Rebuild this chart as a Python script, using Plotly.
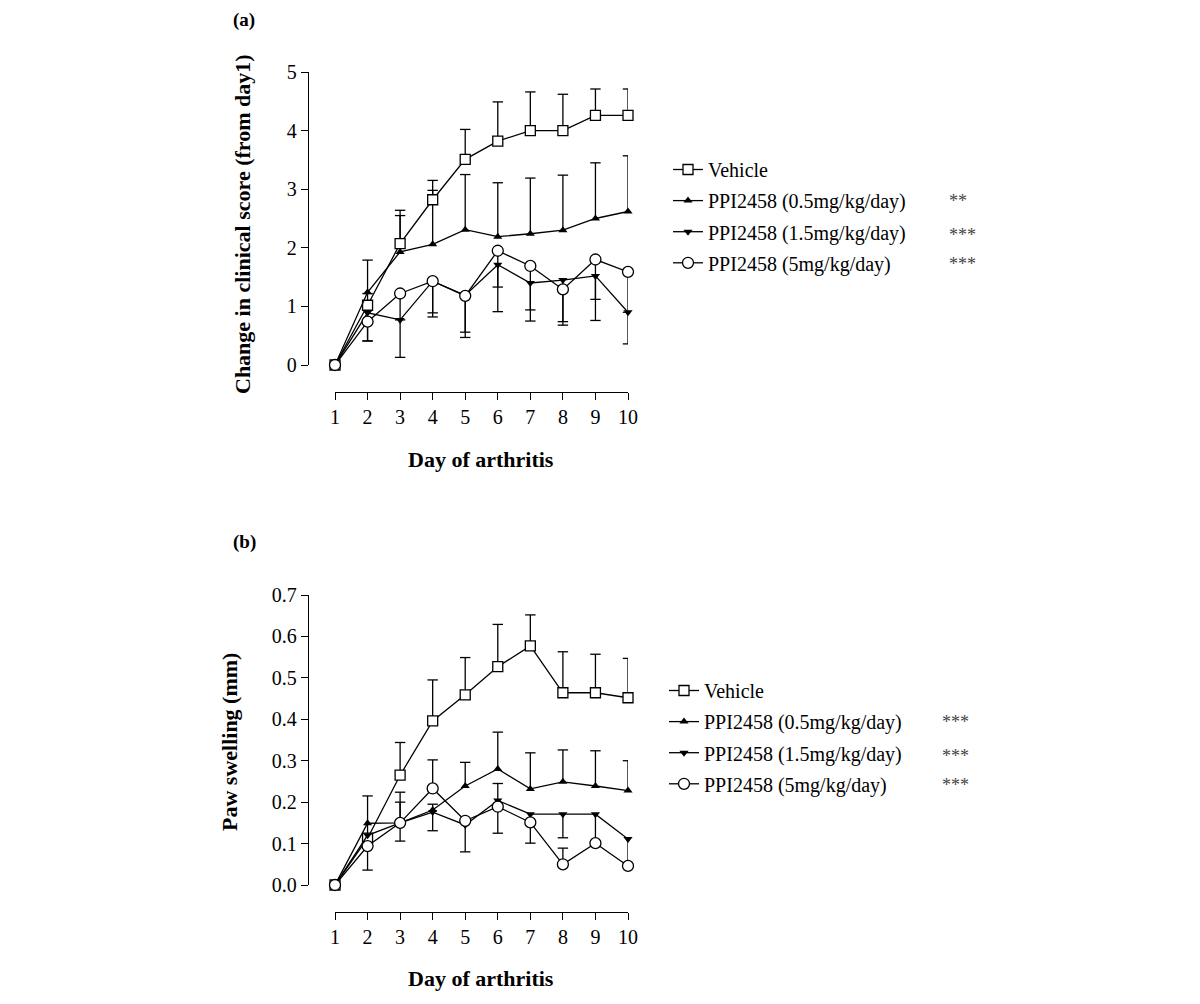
import plotly.graph_objects as go

days = [1, 2, 3, 4, 5, 6, 7, 8, 9, 10]
series_names = ["Vehicle", "PPI2458 (0.5mg/kg/day)", "PPI2458 (1.5mg/kg/day)", "PPI2458 (5mg/kg/day)"]

# Panel (a): change in clinical score
a_vehicle = [0, 1.02, 2.07, 2.82, 3.51, 3.82, 4.00, 4.00, 4.26, 4.26]
a_vehicle_up = [0, 0.20, 0.57, 0.33, 0.51, 0.67, 0.66, 0.62, 0.45, 0.45]
a_low = [0, 1.24, 1.93, 2.06, 2.31, 2.19, 2.24, 2.30, 2.50, 2.62]
a_low_up = [0, 0.55, 0.62, 0.92, 0.94, 0.92, 0.95, 0.94, 0.95, 0.95]
a_mid = [0, 0.89, 0.77, 1.43, 1.19, 1.71, 1.40, 1.45, 1.52, 0.90]
a_mid_down = [0, 0.48, 0.64, 0.54, 0.72, 0.80, 0.65, 0.71, 0.76, 0.54]
a_high = [0, 0.74, 1.22, 1.43, 1.18, 1.95, 1.69, 1.29, 1.80, 1.59]
a_high_down = [0, 0.33, 0.45, 0.61, 0.62, 0.62, 0.75, 0.61, 0.68, 0.69]
a_stars = ["", "**", "***", "***"]

# Panel (b): paw swelling (mm)
b_vehicle = [0, 0.113, 0.265, 0.396, 0.459, 0.527, 0.577, 0.464, 0.464, 0.452]
b_vehicle_up = [0, 0.102, 0.079, 0.099, 0.090, 0.102, 0.075, 0.099, 0.093, 0.095]
b_low = [0, 0.149, 0.150, 0.181, 0.239, 0.280, 0.232, 0.249, 0.239, 0.228]
b_low_up = [0, 0, 0.074, 0.014, 0.057, 0.089, 0.087, 0.077, 0.085, 0.072]
b_mid = [0, 0.120, 0.150, 0.176, 0.145, 0.204, 0.171, 0.171, 0.171, 0.111]
b_mid_down = [0, 0.030, 0.044, 0.045, 0.065, 0.079, 0.070, 0.057, 0.070, 0.065]
b_high = [0, 0.094, 0.150, 0.233, 0.155, 0.189, 0.151, 0.050, 0.101, 0.046]
b_high_up = [0, 0, 0.050, 0.069, 0, 0.056, 0, 0.039, 0, 0]
b_high_down = [0, 0.058, 0, 0, 0, 0, 0, 0, 0, 0]
b_stars = ["", "***", "***", "***"]

FONT = "Liberation Serif"
LW = 1.3
CAP = 0.16  # half cap width in days

markers = [
    dict(symbol="square", size=10, color="white", line=dict(color="black", width=LW)),
    dict(symbol="triangle-up", size=8, color="black", line=dict(color="black", width=0)),
    dict(symbol="triangle-down", size=8, color="black", line=dict(color="black", width=0)),
    dict(symbol="circle", size=11, color="white", line=dict(color="black", width=LW)),
]


def err_segments(xs, ys, up=None, down=None):
    px, py = [], []
    n = len(xs)
    up = up or [0] * n
    down = down or [0] * n
    for x, y, u, d in zip(xs, ys, up, down):
        for e in (u, -d):
            if e != 0:
                px += [x, x, None, x - CAP, x + CAP, None]
                py += [y, y + e, None, y + e, y + e, None]
    return px, py


fig = go.Figure()

panels = [
    dict(x="x", y="y", legend="legend",
         vals=[a_vehicle, a_low, a_mid, a_high],
         errs=[(a_vehicle_up, None), (a_low_up, None), (None, a_mid_down), (None, a_high_down)]),
    dict(x="x2", y="y2", legend="legend2",
         vals=[b_vehicle, b_low, b_mid, b_high],
         errs=[(b_vehicle_up, None), (b_low_up, None), (None, b_mid_down), (b_high_up, b_high_down)]),
]

for p in panels:
    for v, (u, d) in zip(p["vals"], p["errs"]):
        ex, ey = err_segments(days, v, u, d)
        fig.add_trace(go.Scatter(x=ex, y=ey, mode="lines", xaxis=p["x"], yaxis=p["y"],
                                 line=dict(color="black", width=LW), showlegend=False,
                                 hoverinfo="skip", cliponaxis=False))
    for i, (name, v) in enumerate(zip(series_names, p["vals"])):
        fig.add_trace(go.Scatter(x=days, y=v, name=name, mode="lines+markers",
                                 xaxis=p["x"], yaxis=p["y"], legend=p["legend"],
                                 legendgroup=p["legend"] + str(i),
                                 line=dict(color="black", width=LW), marker=markers[i],
                                 cliponaxis=False))

W, H = 1200, 1004
OFF = 8  # page body margin


def fx(px):
    return (px - OFF) / W


def fy(py):
    return 1 - (py - OFF) / H


tickfont = dict(family=FONT, size=20, color="black")
common_x = dict(range=[1, 10], tickvals=days, ticks="outside", ticklen=7, tickwidth=LW,
                tickcolor="black", showline=True, linecolor="black", linewidth=LW,
                showgrid=False, zeroline=False, tickfont=tickfont, anchor="free",
                automargin=False)
common_y = dict(ticks="outside", ticklen=7, tickwidth=LW, tickcolor="black", showline=True,
                linecolor="black", linewidth=LW, showgrid=False, zeroline=False,
                tickfont=tickfont, anchor="free", position=fx(308), automargin=False)

legend_common = dict(font=dict(family=FONT, size=20, color="black"), bgcolor="rgba(0,0,0,0)",
                     xanchor="left", yanchor="top", traceorder="grouped", tracegroupgap=2.1,
                     itemclick=False)

fig.update_layout(
    template="none",
    width=W, height=H, margin=dict(l=0, r=0, t=0, b=0, pad=0, autoexpand=False),
    paper_bgcolor="white", plot_bgcolor="white",
    xaxis=dict(domain=[fx(335), fx(628)], position=fy(392), **common_x),
    yaxis=dict(domain=[fy(365), fy(72)], range=[0, 5], tickvals=[0, 1, 2, 3, 4, 5], **common_y),
    xaxis2=dict(domain=[fx(335), fx(628)], position=fy(912), **common_x),
    yaxis2=dict(domain=[fy(885), fy(595)], range=[0, 0.7],
                tickvals=[0, 0.1, 0.2, 0.3, 0.4, 0.5, 0.6, 0.7], tickformat=".1f", **common_y),
    legend=dict(x=fx(668), y=fy(150), **legend_common),
    legend2=dict(x=fx(664), y=fy(671), **legend_common),
    showlegend=True,
)

ann = []
title_font = dict(family=FONT, size=22, color="black")
ann.append(dict(text="<b>(a)</b>", x=fx(244), y=fy(20), font=dict(family=FONT, size=19, color="black")))
ann.append(dict(text="<b>(b)</b>", x=fx(244), y=fy(542), font=dict(family=FONT, size=19, color="black")))
ann.append(dict(text="<b>Day of arthritis</b>", x=fx(481), y=fy(459), font=title_font))
ann.append(dict(text="<b>Day of arthritis</b>", x=fx(481), y=fy(978), font=title_font))
ann.append(dict(text="<b>Change in clinical score (from day1)</b>", x=fx(242), y=fy(224),
                textangle=-90, font=title_font))
ann.append(dict(text="<b>Paw swelling (mm)</b>", x=fx(229), y=fy(742), textangle=-90, font=title_font))

star_font = dict(family=FONT, size=18, color="#444444")
for s, py in zip(a_stars, [169, 201, 235, 264]):
    if s:
        ann.append(dict(text=s, x=fx(947), y=fy(py), xanchor="left", font=star_font))
for s, py in zip(b_stars, [690, 722, 756, 785]):
    if s:
        ann.append(dict(text=s, x=fx(940), y=fy(py), xanchor="left", font=star_font))

for a in ann:
    a.setdefault("xanchor", "center")
    fig.add_annotation(xref="paper", yref="paper", showarrow=False, yanchor="middle", **a)

fig.write_html("out.html")
